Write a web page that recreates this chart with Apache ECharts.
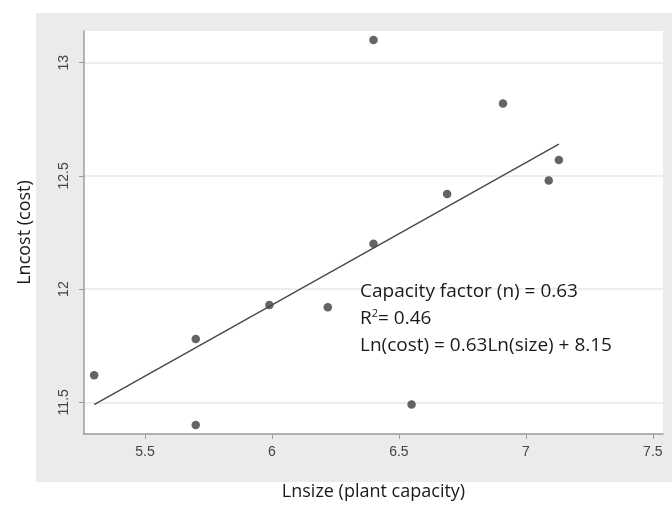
<!DOCTYPE html>
<html>
<head>
<meta charset="utf-8">
<script src="https://cdn.jsdelivr.net/npm/echarts@6/dist/echarts.min.js"></script>
<style>
  html, body { margin: 0; padding: 0; background: #fff; }
  #chart { width: 672px; height: 506px; }
</style>
</head>
<body>
<div id="chart"></div>
<script>
// plant data: ln(size), ln(cost)
const lnSize = [5.30, 5.70, 5.70, 5.99, 6.22, 6.40, 6.40, 6.55, 6.69, 6.91, 7.09, 7.13];
const lnCost = [11.62, 11.78, 11.40, 11.93, 11.92, 12.20, 13.10, 11.49, 12.42, 12.82, 12.48, 12.57];
// fitted line end points
const fitX = [5.30, 7.13];
const fitY = [11.49, 12.64];
// tick labels
const xTicks = [5.5, 6, 6.5, 7, 7.5];
const yTicks = [11.5, 12, 12.5, 13];
const notes = ['Capacity factor (n) = 0.63', 'R{sup|2}= 0.46', 'Ln(cost) = 0.63Ln(size) + 8.15'];

const points = lnSize.map((x, i) => [x, lnCost[i]]);
const fitLine = fitX.map((x, i) => [x, fitY[i]]);

const chart = echarts.init(document.getElementById('chart'));
chart.setOption({
  backgroundColor: '#fff',
  animation: false,
  grid: {
    left: 84, top: 31, right: 9, bottom: 70,
    show: true, backgroundColor: '#fff', borderWidth: 0
  },
  graphic: [
    {
      type: 'rect', z: -100, silent: true,
      shape: { x: 36, y: 13, width: 636, height: 469 },
      style: { fill: '#eaebed' }
    },
    {
      type: 'text', left: 360, top: 278, z: 100,
      style: {
        text: notes.join('\n'),
        font: '19px "Open Sans"',
        lineHeight: 27,
        fill: '#1a1a1a',
        rich: {
          sup: { fontSize: 11, fontFamily: 'Open Sans', padding: [0, 0, 10, 0], fill: '#1a1a1a' }
        }
      }
    }
  ],
  xAxis: {
    type: 'value', min: 5.26, max: 7.54,
    name: 'Lnsize (plant capacity)', nameLocation: 'middle', nameGap: 49,
    nameTextStyle: { fontFamily: 'Open Sans', fontSize: 18, color: '#1a1a1a' },
    axisLine: { lineStyle: { color: '#9c9c9c', width: 1.5 } },
    axisTick: { show: true, length: 5, customValues: xTicks, lineStyle: { color: '#9c9c9c' } },
    axisLabel: { customValues: xTicks, margin: 11, fontFamily: 'Liberation Sans', fontSize: 14, color: '#444' },
    splitLine: { show: false }
  },
  yAxis: {
    type: 'value', min: 11.36, max: 13.14,
    name: 'Lncost (cost)', nameLocation: 'middle', nameGap: 50,
    nameTextStyle: { fontFamily: 'Open Sans', fontSize: 18, color: '#1a1a1a' },
    axisLine: { show: true, lineStyle: { color: '#9c9c9c', width: 1.5 } },
    axisTick: { show: true, length: 5, customValues: yTicks, lineStyle: { color: '#9c9c9c' } },
    axisLabel: { customValues: yTicks, rotate: 90, margin: 13, fontFamily: 'Liberation Sans', fontSize: 14, color: '#444' },
    splitLine: { show: true, lineStyle: { color: '#e8e8e8', width: 1.5 } }
  },
  series: [
    {
      type: 'line', data: fitLine, showSymbol: false, silent: true,
      lineStyle: { color: '#4a4a4a', width: 1.5 }
    },
    {
      type: 'scatter', data: points, symbolSize: 8.5,
      itemStyle: { color: '#3d3d3d' }
    }
  ]
});
</script>
</body>
</html>
